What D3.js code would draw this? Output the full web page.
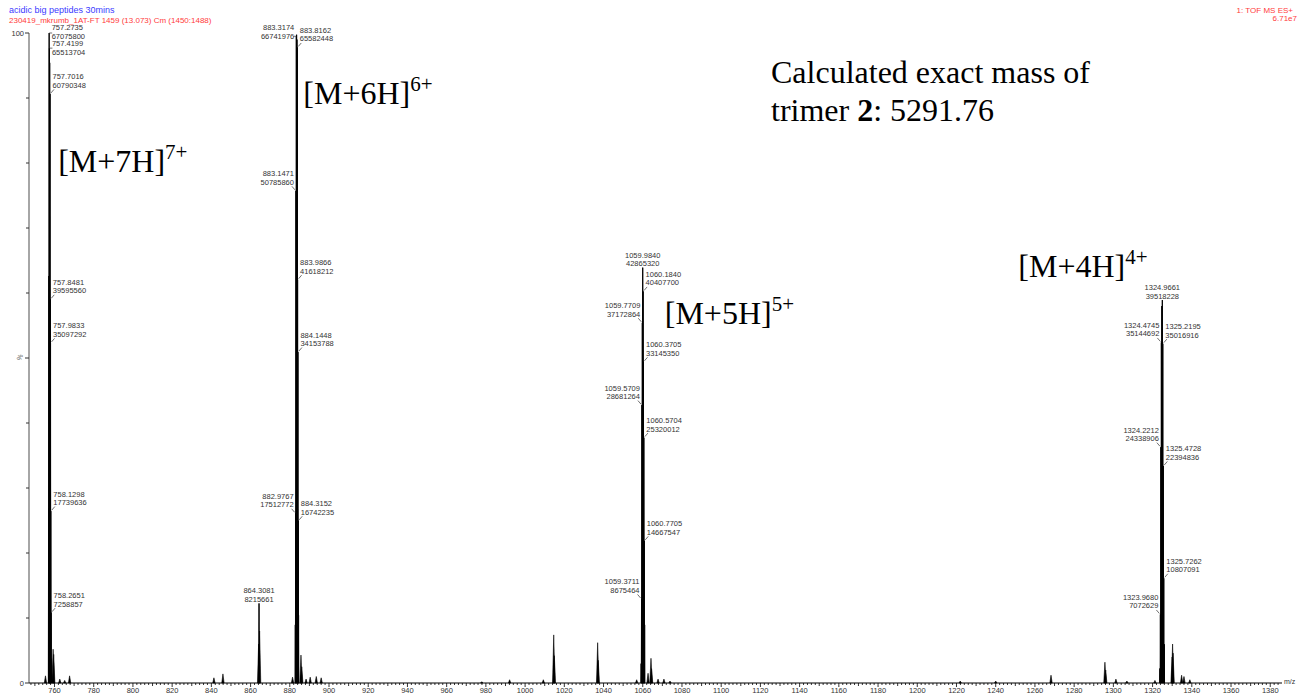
<!DOCTYPE html>
<meta charset="utf-8">
<style>

html, body {
  margin: 0;
  padding: 0;
  background: #fff;
}

svg {
  display: block;
  font-family: "Liberation Sans", Arial, sans-serif;
}

.peak {
  fill: #000;
  stroke: #000;
  stroke-width: 0.6px;
}

.peak.iso, .peak.lab {
  stroke-width: 1px;
}

.plabel {
  font-size: 7.5px;
  fill: #333;
}

.leader {
  stroke: #333;
  stroke-width: 0.7px;
}

.ann {
  font-family: "Liberation Serif", "Times New Roman", serif;
  font-size: 32px;
  fill: #000;
}

</style>
<svg id="chart"></svg>
<script src="https://d3js.org/d3.v7.min.js"></script>
<script>

var width = 1299;
var height = 694;

// base peak (100%) intensity
var basePeak = 67075800;

// labelled centroids
var peakMz = [757.2735, 757.4199, 757.7016, 757.8481, 757.9833, 758.1298, 758.2651,
  864.3081,
  883.3174, 883.8162, 883.1471, 883.9866, 884.1448, 882.9767, 884.3152,
  1059.9840, 1060.1840, 1059.7709, 1060.3705, 1059.5709, 1060.5704, 1060.7705, 1059.3711,
  1324.9661, 1324.4745, 1325.2195, 1324.2212, 1325.4728, 1325.7262, 1323.9680];
var peakInt = [67075800, 65513704, 60790348, 39595560, 35097292, 17739636, 7258857,
  8215661,
  66741976, 65582448, 50785860, 41618212, 34153788, 17512772, 16742235,
  42865320, 40407700, 37172864, 33145350, 28681264, 25320012, 14667547, 8675464,
  39518228, 35144692, 35016916, 24338906, 22394836, 10807091, 7072629];

// isotopes without a label
var isoMz = [756.99, 757.13, 757.56, 758.41, 882.81, 883.48, 883.65, 884.48,
  1059.17, 1060.97, 1323.72, 1324.72, 1325.98];
var isoInt = [18000000, 42000000, 64000000, 2500000, 6000000, 66900000, 66400000, 7000000,
  2000000, 6000000, 1500000, 38900000, 4000000];

// other small peaks, % of base peak
var minorMz = [755.4, 759.3, 759.6, 762.7, 765.2, 767.7, 841.3, 845.9, 864.1, 864.6,
  881.4, 885.7, 886.1, 888.3, 890.4, 893.5, 896.0, 977.9, 992.1, 1009.3,
  1014.6, 1014.9, 1037.0, 1037.3, 1056.9, 1062.7, 1064.2, 1064.5, 1067.8, 1070.8, 1073.9,
  1221.9, 1240.0, 1268.2, 1295.7, 1296.1, 1301.3, 1306.9, 1321.2,
  1329.95, 1330.2, 1330.45, 1334.8, 1336.0, 1339.0];
var minorPct = [1.1, 5.2, 4.4, 0.6, 0.4, 1.1, 0.8, 1.4, 6.0, 8.0,
  0.9, 4.3, 2.5, 0.6, 0.9, 1.0, 0.8, 0.2, 0.5, 0.5,
  7.4, 4.2, 6.2, 3.5, 0.5, 1.5, 3.8, 2.2, 0.6, 0.6, 0.3,
  0.3, 0.3, 1.2, 3.2, 2.0, 0.6, 0.3, 0.4,
  4.0, 6.0, 4.6, 1.2, 1.0, 0.5];

var xTicks = d3.range(760, 1381, 20);

var svg = d3.select('#chart')
  .attr('width', width)
  .attr('height', height);

svg.append('rect')
  .attr('width', width)
  .attr('height', height)
  .attr('fill', '#fff');

var x = d3.scaleLinear()
  .domain([747, 1386])
  .range([29, 1282]);

var y = d3.scaleLinear()
  .domain([0, 100])
  .range([683, 33]);

function pct(v) { return v / basePeak * 100; }

function tri(mz, p, hw) {
  return 'M' + x(mz - hw) + ',' + y(0) +
    'L' + x(mz) + ',' + y(p) +
    'L' + x(mz + hw) + ',' + y(0) + 'Z';
}

// header
svg.append('text')
  .attr('x', 9).attr('y', 13)
  .attr('fill', '#3c3cff')
  .style('font-size', '9px')
  .text('acidic big peptides 30mins');

svg.append('text')
  .attr('x', 9).attr('y', 22.5)
  .attr('fill', '#ff3c3c')
  .style('font-size', '8px')
  .text('230419_mkrumb_1AT-FT 1459 (13.073) Cm (1450:1488)');

svg.append('text')
  .attr('x', 1293).attr('y', 12.5)
  .attr('fill', '#ff3c3c')
  .attr('text-anchor', 'end')
  .style('font-size', '8px')
  .text('1: TOF MS ES+');

svg.append('text')
  .attr('x', 1297).attr('y', 21)
  .attr('fill', '#ff3c3c')
  .attr('text-anchor', 'end')
  .style('font-size', '8px')
  .text('6.71e7');

// y axis
var yAxis = svg.append('g');
yAxis.append('line')
  .attr('x1', x(747)).attr('x2', x(747))
  .attr('y1', y(100)).attr('y2', y(0))
  .attr('stroke', '#888').attr('stroke-width', 1.5);

yAxis.selectAll('line.tick')
  .data(d3.range(0, 101, 10))
  .enter().append('line')
  .attr('class', 'tick')
  .attr('x1', function (d) { return x(747) - (d % 50 === 0 ? 4 : 3); })
  .attr('x2', x(747))
  .attr('y1', function (d) { return y(d); })
  .attr('y2', function (d) { return y(d); })
  .attr('stroke', '#333');

yAxis.append('text')
  .attr('x', 24).attr('y', y(100) + 3)
  .attr('text-anchor', 'end')
  .attr('fill', '#333')
  .style('font-size', '7.5px')
  .text('100');

yAxis.append('text')
  .attr('x', 24).attr('y', y(0) + 3)
  .attr('text-anchor', 'end')
  .attr('fill', '#333')
  .style('font-size', '7.5px')
  .text('0');

yAxis.append('text')
  .attr('transform', 'translate(22,' + y(50) + ') rotate(-70)')
  .attr('text-anchor', 'middle')
  .attr('fill', '#555')
  .style('font-size', '7px')
  .text('%');

// peaks
var peaks = svg.append('g');

peaks.selectAll('path.minor')
  .data(minorMz)
  .enter().append('path')
  .attr('class', 'peak minor')
  .attr('d', function (d, i) { return tri(d, minorPct[i], 0.6); });

peaks.selectAll('path.iso')
  .data(isoMz)
  .enter().append('path')
  .attr('class', 'peak iso')
  .attr('d', function (d, i) { return tri(d, pct(isoInt[i]), 0.12); });

peaks.selectAll('path.lab')
  .data(peakMz)
  .enter().append('path')
  .attr('class', 'peak lab')
  .attr('d', function (d, i) { return tri(d, pct(peakInt[i]), 0.12); });

// x axis
var xAxis = svg.append('g');
xAxis.append('line')
  .attr('x1', x(747)).attr('x2', x(1386))
  .attr('y1', y(0)).attr('y2', y(0))
  .attr('stroke', '#000').attr('stroke-width', 1.2);

xAxis.selectAll('line.tick')
  .data(d3.range(748, 1385, 2))
  .enter().append('line')
  .attr('class', 'tick')
  .attr('x1', function (d) { return x(d); })
  .attr('x2', function (d) { return x(d); })
  .attr('y1', y(0))
  .attr('y2', function (d) { return y(0) + (d % 20 === 0 ? 4 : d % 10 === 0 ? 3 : 2); })
  .attr('stroke', '#000')
  .attr('stroke-width', 0.8);

xAxis.selectAll('text.tl')
  .data(xTicks)
  .enter().append('text')
  .attr('class', 'tl')
  .attr('x', function (d) { return x(d); })
  .attr('y', 693)
  .attr('text-anchor', 'middle')
  .attr('fill', '#333')
  .style('font-size', '7.5px')
  .text(function (d) { return d; });

xAxis.append('text')
  .attr('x', x(1386) + 2).attr('y', y(0) + 1)
  .attr('fill', '#333')
  .style('font-size', '7px')
  .text('m/z');

// peak labels
var labels = peakMz.map(function (mz, i) {
  return {mz: mz, v: peakInt[i], px: x(mz), py: y(pct(peakInt[i]))};
}).sort(function (a, b) { return a.mz - b.mz; });

var clusters = [];
labels.forEach(function (d) {
  var c = clusters[clusters.length - 1];
  if (!c || d.mz - c[c.length - 1].mz > 3) clusters.push(c = []);
  c.push(d);
});

clusters.forEach(function (c) {
  var top = c.reduce(function (a, b) { return b.v > a.v ? b : a; });
  c.forEach(function (d) {
    if (d === top) {
      var crowded = c.some(function (o) { return o !== d && Math.abs(o.py - d.py) < 20; });
      d.side = !crowded ? 'center' : (d.px - x(747) > 40 ? 'left' : 'right');
    } else {
      d.side = d.mz < top.mz ? 'left' : 'right';
    }
    d.b1 = d.side === 'center' ? d.py - 10 : d.py - 14.5;
    if (d.b1 < 30) d.b1 = 30;
  });
  var placed = [];
  c.slice().sort(function (a, b) { return a.b1 - b.b1; }).forEach(function (d) {
    placed.forEach(function (o) {
      var clash = o.side === d.side || o.side === 'center' || d.side === 'center';
      if (clash && Math.abs(d.b1 - o.b1) < 16.5) d.b1 = o.b1 + 16;
    });
    placed.push(d);
  });
});

var lab = svg.append('g');

labels.forEach(function (d) {
  var tx = d.side === 'center' ? d.px : d.side === 'left' ? d.px - 2 : d.px + 2.5;
  var anchor = d.side === 'center' ? 'middle' : d.side === 'left' ? 'end' : 'start';
  var t = lab.append('text')
    .attr('class', 'plabel')
    .attr('text-anchor', anchor);
  t.append('tspan').attr('x', tx).attr('y', d.b1).text(d.mz.toFixed(4));
  t.append('tspan').attr('x', tx).attr('y', d.b1 + 8.5).text(d.v);

  if (d.side === 'center') return;
  var s = d.side === 'left' ? -1 : 1;
  var bottom = d.b1 + 10;
  if (bottom < d.py - 1) {
    lab.append('line').attr('class', 'leader')
      .attr('x1', d.px + s * 4).attr('y1', bottom)
      .attr('x2', d.px + s * 1).attr('y2', d.py - 1);
  } else {
    lab.append('line').attr('class', 'leader')
      .attr('x1', d.px).attr('y1', d.py)
      .attr('x2', d.px + s * 3).attr('y2', d.py);
  }
});

// annotations
var ions = [
  {t: '[M+7H]', z: '7+', mz: 757.2735, dx: 9, py: 172},
  {t: '[M+6H]', z: '6+', mz: 883.3174, dx: 7, py: 104},
  {t: '[M+5H]', z: '5+', mz: 1059.9840, dx: 22, py: 324},
  {t: '[M+4H]', z: '4+', mz: 1324.9661, dx: -144, py: 277}
];

ions.forEach(function (d) {
  var t = svg.append('text')
    .attr('class', 'ann')
    .attr('x', x(d.mz) + d.dx)
    .attr('y', d.py);
  t.append('tspan').text(d.t);
  t.append('tspan')
    .attr('dy', -13)
    .style('font-size', '21px')
    .text(d.z);
});

var note = svg.append('text')
  .attr('class', 'ann')
  .attr('x', 771)
  .attr('y', 83);
note.append('tspan').text('Calculated exact mass of');

var note2 = svg.append('text')
  .attr('class', 'ann')
  .attr('x', 771)
  .attr('y', 121);
note2.append('tspan').text('trimer ');
note2.append('tspan').style('font-weight', 'bold').text('2');
note2.append('tspan').text(': 5291.76');

</script>
